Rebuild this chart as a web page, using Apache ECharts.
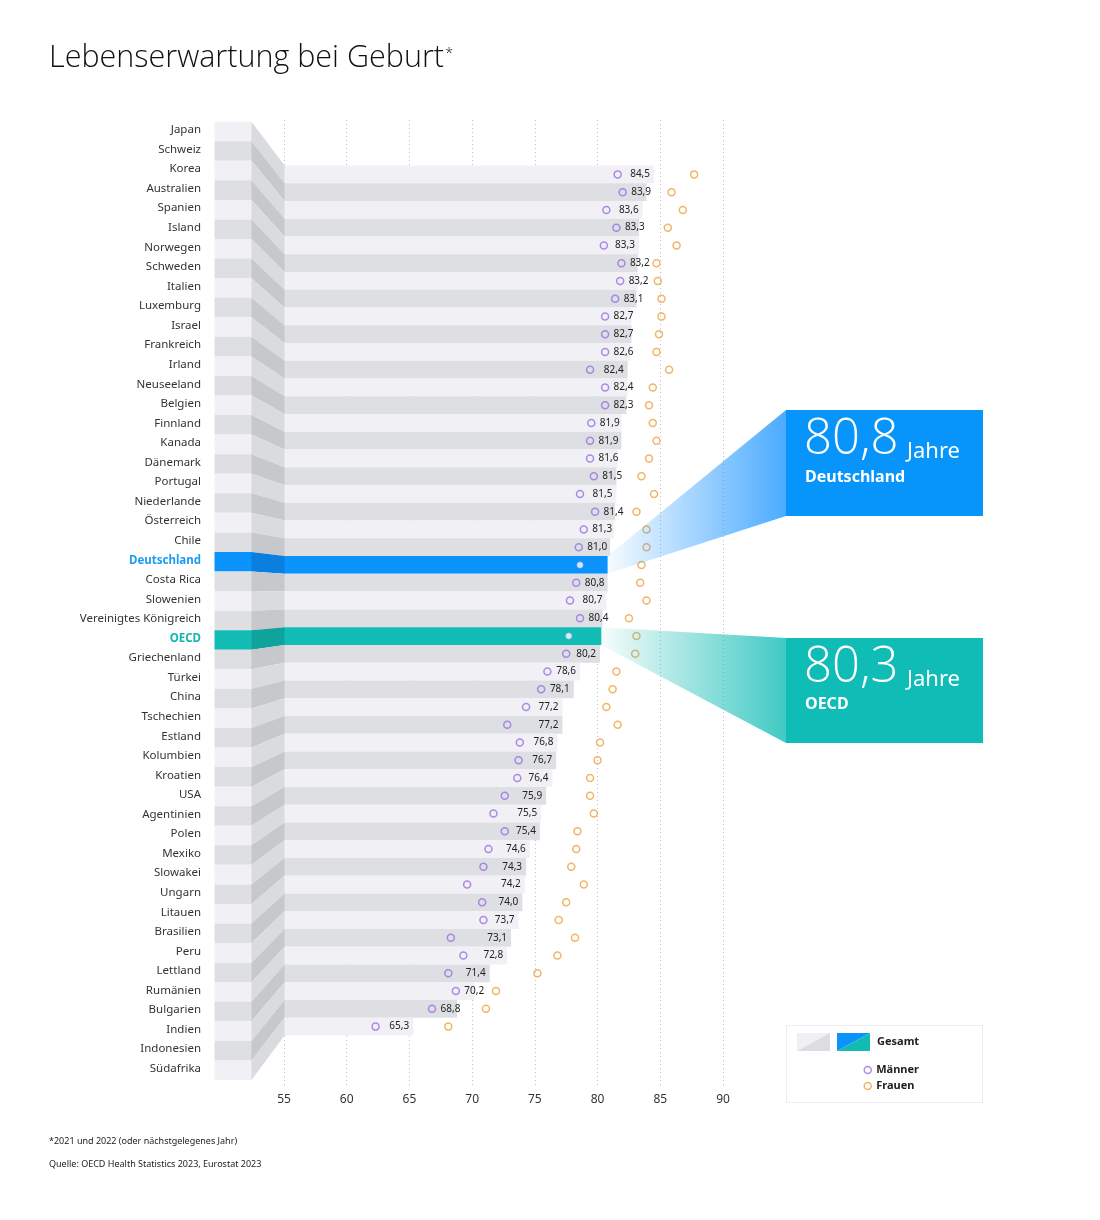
<!DOCTYPE html>
<html><head><meta charset="utf-8">
<script src="https://cdn.jsdelivr.net/npm/echarts@6/dist/echarts.min.js"></script>
<style>html,body{margin:0;padding:0;background:#fff}#c{width:1100px;height:1220px}</style>
</head><body><div id="c"></div>
<script>
// ---------- DATA ----------
const categories = ['Japan','Schweiz','Korea','Australien','Spanien','Island','Norwegen','Schweden','Italien','Luxemburg','Israel','Frankreich','Irland','Neuseeland','Belgien','Finnland','Kanada','Dänemark','Portugal','Niederlande','Österreich','Chile','Deutschland','Costa Rica','Slowenien','Vereinigtes Königreich','OECD','Griechenland','Türkei','China','Tschechien','Estland','Kolumbien','Kroatien','USA','Agentinien','Polen','Mexiko','Slowakei','Ungarn','Litauen','Brasilien','Peru','Lettland','Rumänien','Bulgarien','Indien','Indonesien','Südafrika'];
const total = [84.5,83.9,83.6,83.3,83.3,83.2,83.2,83.1,82.7,82.7,82.6,82.4,82.4,82.3,81.9,81.9,81.6,81.5,81.5,81.4,81.3,81.0,80.8,80.8,80.7,80.4,80.3,80.2,78.6,78.1,77.2,77.2,76.8,76.7,76.4,75.9,75.5,75.4,74.6,74.3,74.2,74.0,73.7,73.1,72.8,71.4,70.2,68.8,65.3];
const men = [81.6,82.0,80.7,81.5,80.5,81.9,81.8,81.4,80.6,80.6,80.6,79.4,80.6,80.6,79.5,79.4,79.4,79.7,78.6,79.8,78.9,78.5,78.6,78.3,77.8,78.6,77.7,77.5,76.0,75.5,74.3,72.8,73.8,73.7,73.6,72.6,71.7,72.6,71.3,70.9,69.6,70.8,70.9,68.3,69.3,68.1,68.7,66.8,62.3];
const women = [87.7,85.9,86.8,85.6,86.3,84.7,84.8,85.1,85.1,84.9,84.7,85.7,84.4,84.1,84.4,84.7,84.1,83.5,84.5,83.1,83.9,83.9,83.5,83.4,83.9,82.5,83.1,83.0,81.5,81.2,80.7,81.6,80.2,80.0,79.4,79.4,79.7,78.4,78.3,77.9,78.9,77.5,76.9,78.2,76.8,75.2,71.9,71.1,68.1];
const xMin = 55, xMax = 90, xStep = 5;
const hlDE = 'Deutschland', hlOECD = 'OECD';
const seriesNames = ['Männer', 'Frauen'];

// ---------- STYLE ----------
const FONT = '"Noto Sans", "Open Sans", sans-serif';
const TFONT = '"Open Sans", "Noto Sans", sans-serif';
const C = {
  light:'#f1f1f5', dark:'#dedfe3', foldLight:'#dadbdf', foldDark:'#c7c8cc',
  blue:'#0a93fb', blueFold:'#0a7fe0', teal:'#12bcb5', tealFold:'#10a39c',
  men:'#9a6fe2', women:'#eea23f', text:'#333'
};
const boxDE = {x:786, y:410, w:197, h:106};
const boxOE = {x:786, y:638, w:197, h:105};
const LABEL_SIZE = 10;

function stripColor(i, fold) {
  const n = categories[i];
  if (n === hlDE) return fold ? C.blueFold : C.blue;
  if (n === hlOECD) return fold ? C.tealFold : C.teal;
  if (fold) return i % 2 === 0 ? C.foldLight : C.foldDark;
  return i % 2 === 0 ? C.light : C.dark;
}
const fmt = v => v.toFixed(1).replace('.', ',');
const isHL = n => n === hlDE || n === hlOECD;

function barData(offsets) {
  return total.map((v, i) => {
    const n = categories[i];
    return { value: v, itemStyle: { color: stripColor(i, false) },
             label: { show: !isHL(n), offset: [offsets ? offsets[i] : 0, 0] } };
  });
}

const chart = echarts.init(document.getElementById('c'), null, {renderer:'canvas'});

const option = {
  animation: false,
  backgroundColor: '#fff',
  title: {
    text: 'Lebenserwartung bei Geburt{s|*}',
    left: 49, top: 40, padding: 0,
    textStyle: {
      fontSize: 30.5, fontWeight: 300, fontFamily: TFONT, color: '#111', lineHeight: 36,
      rich: { s: { fontSize: 15, fontWeight: 300, fontFamily: TFONT, color: '#111', verticalAlign: 'middle', lineHeight: 20, padding: [0, 0, 8, 1] } }
    }
  },
  legend: {
    orient: 'vertical', left: 858.5, top: 1058.5, itemWidth: 7, itemHeight: 7, itemGap: 3,
    selectedMode: false,
    textStyle: { fontSize: 11, fontWeight: 'bold', color: '#222', fontFamily: FONT, lineHeight: 13 },
    data: [
      { name: seriesNames[0], icon: 'circle', itemStyle: { color: '#fff', borderColor: C.men, borderWidth: 1.5 } },
      { name: seriesNames[1], icon: 'circle', itemStyle: { color: '#fff', borderColor: C.women, borderWidth: 1.5 } }
    ]
  },
  grid: [
    { left: 284, top: 165.5, width: 439, height: 870 },
    { left: 214.5, top: 121.7, width: 37.5, height: 958.3 },
    { left: 284, top: 120, width: 439, height: 967 }
  ],
  xAxis: [
    { gridIndex: 0, type: 'value', min: xMin, max: xMax, interval: xStep, show: false },
    { gridIndex: 1, type: 'value', min: 0, max: 1, show: false },
    { gridIndex: 2, type: 'value', min: xMin, max: xMax, interval: xStep,
      axisLine: { show: false }, axisTick: { show: false },
      splitLine: { show: true, lineStyle: { color: '#bfc0c6', type: [1, 3], width: 1 } },
      axisLabel: { color: C.text, fontSize: 12, fontFamily: FONT, margin: 7 } }
  ],
  yAxis: [
    { gridIndex: 0, type: 'category', data: categories, inverse: true, show: false },
    { gridIndex: 1, type: 'category', data: categories, inverse: true,
      axisLine: { show: false }, axisTick: { show: false },
      axisLabel: {
        margin: 13.5, fontSize: 11.5, color: C.text, fontFamily: FONT, padding: [0, 0, 3, 0],
        formatter: v => v === hlDE ? '{de|' + v + '}' : v === hlOECD ? '{oe|' + v + '}' : v,
        rich: {
          de: { color: '#1c9cf0', fontWeight: 'bold', fontSize: 11.5, fontFamily: FONT },
          oe: { color: '#13b5ae', fontWeight: 'bold', fontSize: 11.5, fontFamily: FONT }
        }
      } },
    { gridIndex: 2, type: 'value', show: false }
  ],
  series: [
    {
      type: 'bar', xAxisIndex: 1, yAxisIndex: 1, barWidth: '100%', silent: true,
      data: categories.map((n, i) => ({ value: 1, itemStyle: { color: stripColor(i, false) } }))
    },
    {
      type: 'bar', xAxisIndex: 0, yAxisIndex: 0, barWidth: '100%', silent: true, z: 2,
      label: { show: true, position: 'insideRight', distance: 4, fontSize: LABEL_SIZE, color: '#222', fontFamily: FONT,
               formatter: p => fmt(p.value) },
      data: barData(null)
    },
    {
      name: seriesNames[0], type: 'scatter', xAxisIndex: 0, yAxisIndex: 0, symbol: 'circle', symbolSize: 7, z: 4, silent: true,
      itemStyle: { color: 'rgba(0,0,0,0)', borderColor: C.men, borderWidth: 1.5 },
      data: men.map((v, i) => {
        const n = categories[i];
        if (isHL(n)) {
          return { value: [v, n], symbolSize: 6, itemStyle: { color: '#fff', borderColor: '#c9b8f4', borderWidth: 1 } };
        }
        return { value: [v, n] };
      })
    },
    {
      name: seriesNames[1], type: 'scatter', xAxisIndex: 0, yAxisIndex: 0, symbol: 'circle', symbolSize: 7, z: 4, silent: true,
      itemStyle: { color: 'rgba(0,0,0,0)', borderColor: C.women, borderWidth: 1.5 },
      data: women.map((v, i) => [v, categories[i]])
    },
    {
      type: 'custom', xAxisIndex: 0, yAxisIndex: 0, clip: false, z: 6, silent: true,
      data: [[total[categories.indexOf(hlDE)], hlDE], [total[categories.indexOf(hlOECD)], hlOECD]],
      renderItem: (params, api) => {
        const p = api.coord([api.value(0), api.value(1)]);
        const h = api.size([0, 1])[1];
        const b = params.dataIndex === 0 ? boxDE : boxOE;
        const col = params.dataIndex === 0 ? '30,150,255' : '18,188,181';
        return {
          type: 'polygon',
          shape: { points: [[p[0], p[1] - h / 2], [b.x, b.y], [b.x, b.y + b.h], [p[0], p[1] + h / 2]] },
          style: { fill: new echarts.graphic.LinearGradient(0, 0, 1, 0, [
            { offset: 0, color: 'rgba(' + col + ',0.04)' }, { offset: 1, color: 'rgba(' + col + ',0.8)' }]) }
        };
      }
    }
  ]
};
chart.setOption(option);

// ---------- second pass: label offsets, fold, annotations ----------
const px = (g, v, n) => chart.convertToPixel({ gridIndex: g }, [v, n]);
const ctx = document.createElement('canvas').getContext('2d');
ctx.font = LABEL_SIZE + 'px "Noto Sans"';
const offsets = total.map((v, i) => {
  const n = categories[i];
  const barEnd = px(0, v, n)[0];
  const menX = px(0, men[i], n)[0];
  const w = ctx.measureText(fmt(v)).width;
  const left = barEnd - 4 - w;
  return Math.max(0, menX + 8.5 - left);
});

const graphics = [];
const xL = px(1, 1, categories[0])[0];
const xR = px(0, xMin, categories[0])[0];
const lBand = Math.abs(px(1, 1, categories[1])[1] - px(1, 1, categories[0])[1]);
const rBand = Math.abs(px(0, xMin, categories[1])[1] - px(0, xMin, categories[0])[1]);
categories.forEach((n, i) => {
  const lc = px(1, 1, n)[1];
  const rc = px(0, xMin, n)[1];
  graphics.push({
    type: 'polygon', silent: true, z: 3,
    shape: { points: [[xL - 0.5, lc - lBand / 2], [xR + 0.5, rc - rBand / 2], [xR + 0.5, rc + rBand / 2], [xL - 0.5, lc + lBand / 2]] },
    style: { fill: stripColor(i, true) }
  });
});

function calloutGfx(b, color, num, label, numY, unitY, labY) {
  graphics.push({ type: 'rect', silent: true, z: 7, shape: { x: b.x, y: b.y, width: b.w, height: b.h }, style: { fill: color } });
  graphics.push({ type: 'text', silent: true, z: 8, style: { text: num, x: b.x + 18, y: numY, fill: '#fff', fontSize: 49, fontWeight: 300, fontFamily: TFONT, verticalAlign: 'middle' } });
  graphics.push({ type: 'text', silent: true, z: 8, style: { text: 'Jahre', x: b.x + 121, y: unitY, fill: '#fff', fontSize: 22, fontWeight: 400, fontFamily: FONT, verticalAlign: 'middle' } });
  graphics.push({ type: 'text', silent: true, z: 8, style: { text: label, x: b.x + 19, y: labY, fill: '#fff', fontSize: 16, fontWeight: 'bold', fontFamily: FONT, verticalAlign: 'middle' } });
}
calloutGfx(boxDE, '#0795fb', fmt(total[categories.indexOf(hlDE)]), hlDE, 440, 452, 477);
calloutGfx(boxOE, '#10bcb6', fmt(total[categories.indexOf(hlOECD)]), hlOECD, 668, 680, 704);

// legend box
graphics.push({ type: 'rect', silent: true, z: 1, shape: { x: 786.5, y: 1025.5, width: 196, height: 77 }, style: { fill: '#fff', stroke: '#ececf2', lineWidth: 1 } });
graphics.push({ type: 'polygon', silent: true, z: 2, shape: { points: [[797, 1033], [830, 1033], [797, 1051]] }, style: { fill: '#f0f0f4' } });
graphics.push({ type: 'polygon', silent: true, z: 2, shape: { points: [[830, 1033], [830, 1051], [797, 1051]] }, style: { fill: '#dcdde1' } });
graphics.push({ type: 'polygon', silent: true, z: 2, shape: { points: [[837, 1033], [870, 1033], [837, 1051]] }, style: { fill: C.blue } });
graphics.push({ type: 'polygon', silent: true, z: 2, shape: { points: [[870, 1033], [870, 1051], [837, 1051]] }, style: { fill: C.teal } });
graphics.push({ type: 'text', silent: true, z: 2, style: { text: 'Gesamt', x: 877, y: 1042, fill: '#222', fontSize: 11, fontWeight: 'bold', fontFamily: FONT, verticalAlign: 'middle' } });

// footnotes
graphics.push({ type: 'text', silent: true, style: { text: '*2021 und 2022 (oder nächstgelegenes Jahr)', x: 49, y: 1141, fill: '#222', fontSize: 9, fontFamily: FONT, verticalAlign: 'middle' } });
graphics.push({ type: 'text', silent: true, style: { text: 'Quelle: OECD Health Statistics 2023, Eurostat 2023', x: 49, y: 1164, fill: '#222', fontSize: 9, fontFamily: FONT, verticalAlign: 'middle' } });

chart.setOption({ series: [{}, { data: barData(offsets) }], graphic: graphics });
</script>
</body></html>
